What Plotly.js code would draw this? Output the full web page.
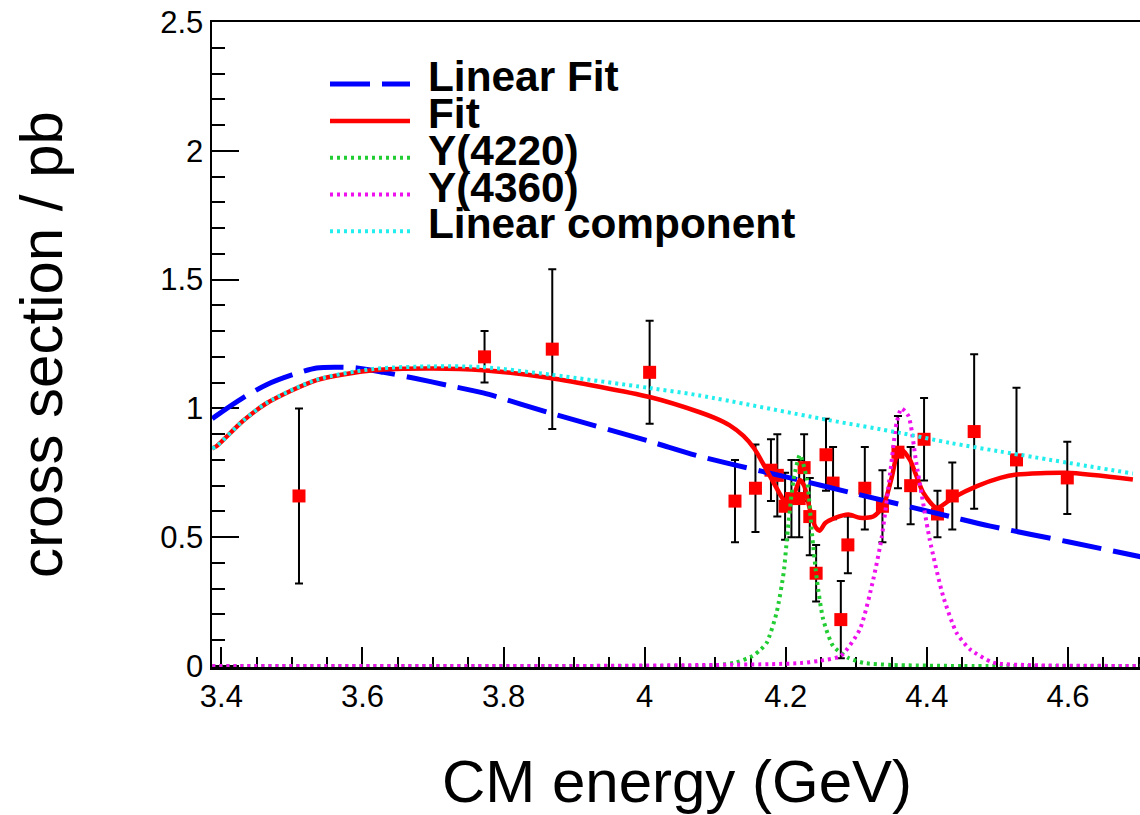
<!DOCTYPE html>
<html>
<head>
<meta charset="utf-8">
<script src="https://cdn.plot.ly/plotly-3.0.1.min.js"></script>
<style>
  html, body { margin: 0; padding: 0; background: #fff; overflow: hidden; }
  #chart { width: 1150px; height: 815px; }
</style>
</head>
<body>
<div id="chart"></div>
<script>
// Measured cross sections (pb) vs centre-of-mass energy (GeV)
const energy = [3.510, 3.773, 3.869, 4.007, 4.128, 4.157, 4.179, 4.188, 4.199, 4.208,
                4.219, 4.226, 4.234, 4.243, 4.257, 4.267, 4.278, 4.288, 4.312, 4.337,
                4.359, 4.377, 4.396, 4.415, 4.436, 4.467, 4.527, 4.599];
const xsec   = [0.66, 1.20, 1.23, 1.14, 0.64, 0.69, 0.76, 0.74, 0.62, 0.65,
                0.65, 0.77, 0.58, 0.36, 0.82, 0.71, 0.18, 0.47, 0.69, 0.62,
                0.83, 0.70, 0.88, 0.59, 0.66, 0.91, 0.80, 0.73];
const xsecErr = [0.34, 0.10, 0.31, 0.20, 0.16, 0.17, 0.12, 0.16, 0.13, 0.15,
                 0.15, 0.13, 0.15, 0.11, 0.14, 0.14, 0.15, 0.11, 0.16, 0.14,
                 0.14, 0.15, 0.16, 0.09, 0.13, 0.30, 0.28, 0.14];

// Linear fit (blue dashed)
const linFitE = [3.387, 3.393, 3.43, 3.464, 3.50, 3.535, 3.565, 3.592, 3.63, 3.672,
                 3.72, 3.771, 3.866, 4.007, 4.078, 4.20, 4.30, 4.433, 4.49, 4.60, 4.705];
const linFitY = [0.96, 0.972, 1.04, 1.092, 1.13, 1.157, 1.16, 1.157, 1.14, 1.118,
                 1.09, 1.06, 0.982, 0.872, 0.814, 0.734, 0.668, 0.580, 0.543, 0.482, 0.423];

// Full fit (red solid)
const fitE = [3.387, 3.393, 3.43, 3.464, 3.535, 3.615, 3.70, 3.771, 3.866, 4.007,
              4.078, 4.10, 4.12, 4.14, 4.155, 4.17, 4.185, 4.197, 4.205, 4.213,
              4.220, 4.226, 4.234, 4.242, 4.248, 4.256, 4.270, 4.289, 4.305, 4.324,
              4.338, 4.350, 4.359, 4.364, 4.376, 4.395, 4.414, 4.437, 4.471, 4.504,
              4.527, 4.598, 4.692];
const fitY = [0.845, 0.853, 0.95, 1.02, 1.11, 1.148, 1.155, 1.148, 1.118, 1.044,
              0.985, 0.962, 0.935, 0.893, 0.845, 0.775, 0.70, 0.645, 0.635, 0.675,
              0.722, 0.70, 0.61, 0.54, 0.525, 0.555, 0.575, 0.588, 0.575, 0.58,
              0.62, 0.73, 0.833, 0.84, 0.80, 0.672, 0.614, 0.653, 0.698, 0.73,
              0.743, 0.75, 0.724];

// Y(4220) component (green dotted)
const y4220E = [3.387, 4.00, 4.10, 4.13, 4.153, 4.163, 4.173, 4.187, 4.197, 4.202,
                4.211, 4.220, 4.230, 4.237, 4.244, 4.253, 4.267, 4.289, 4.31, 4.35, 4.45, 4.705];
const y4220Y = [0.0, 0.0, 0.002, 0.014, 0.039, 0.06, 0.09, 0.207, 0.362, 0.504,
                0.724, 0.82, 0.724, 0.517, 0.336, 0.181, 0.078, 0.031, 0.012, 0.004, 0.0, 0.0];

// Y(4360) component (magenta dotted)
const y4360E = [3.387, 3.90, 4.10, 4.18, 4.22, 4.248, 4.278, 4.305, 4.324, 4.336,
                4.348, 4.357, 4.364, 4.374, 4.385, 4.404, 4.423, 4.442, 4.461, 4.494,
                4.55, 4.705];
const y4360Y = [0.0, 0.0, 0.004, 0.007, 0.011, 0.02, 0.039, 0.142, 0.336, 0.50,
                0.75, 0.943, 1.0, 0.97, 0.788, 0.491, 0.271, 0.129, 0.065, 0.013,
                0.003, 0.0];

// Linear (non-resonant) component (cyan dotted)
const linCompE = [3.387, 3.393, 3.43, 3.464, 3.535, 3.615, 3.700, 3.771, 3.866, 4.007,
                  4.078, 4.258, 4.362, 4.433, 4.503, 4.692];
const linCompY = [0.845, 0.853, 0.95, 1.021, 1.111, 1.153, 1.163, 1.16, 1.131, 1.079,
                  1.05, 0.956, 0.905, 0.866, 0.833, 0.747];

const xTickVals = [3.4, 3.6, 3.8, 4.0, 4.2, 4.4, 4.6];
const yTickVals = [0, 0.5, 1, 1.5, 2, 2.5];

const FONT = 'Liberation Sans, Arial, Helvetica, sans-serif';

const traces = [
  {
    x: energy, y: xsec, type: 'scatter', mode: 'markers', showlegend: false,
    marker: { symbol: 'square', size: 13, color: '#ff0000' },
    error_y: { type: 'data', array: xsecErr, visible: true, color: '#000', thickness: 2, width: 4 }
  },
  {
    x: linFitE, y: linFitY, type: 'scatter', mode: 'lines', name: 'Linear Fit',
    line: { color: '#0000ff', width: 5, dash: '40px,12px', shape: 'spline', smoothing: 0.8 }
  },
  {
    x: fitE, y: fitY, type: 'scatter', mode: 'lines', name: 'Fit',
    line: { color: '#ff0000', width: 4.5, shape: 'spline', smoothing: 0.7 }
  },
  {
    x: y4220E, y: y4220Y, type: 'scatter', mode: 'lines', name: 'Y(4220)',
    line: { color: '#22cc33', width: 4, dash: '3px,4px', shape: 'spline', smoothing: 0.6 }
  },
  {
    x: y4360E, y: y4360Y, type: 'scatter', mode: 'lines', name: 'Y(4360)',
    line: { color: '#ee11ee', width: 4, dash: '3px,4px', shape: 'spline', smoothing: 0.6 }
  },
  {
    x: linCompE, y: linCompY, type: 'scatter', mode: 'lines', name: 'Linear component',
    line: { color: '#22eeee', width: 4, dash: '3px,4px', shape: 'spline', smoothing: 0.8 }
  }
];

const layout = {
  width: 1150, height: 815,
  margin: { l: 212, r: 8, t: 22, b: 148 },
  paper_bgcolor: '#fff', plot_bgcolor: '#fff',
  font: { family: FONT, color: '#000' },
  showlegend: true,
  legend: {
    x: 0.1215, y: 0.94, xanchor: 'left', yanchor: 'top',
    bgcolor: 'rgba(0,0,0,0)', borderwidth: 0,
    font: { family: FONT, size: 26, color: '#000', weight: 'bold' },
    itemwidth: 80, tracegroupgap: 0
  },
  xaxis: {
    range: [3.3867, 4.7049], showgrid: false, zeroline: false,
    showline: true, linecolor: '#000', linewidth: 2.5, mirror: true,
    ticks: 'inside', ticklen: 20, tickwidth: 2, tickcolor: '#000',
    tickvals: xTickVals, ticktext: xTickVals.map(v => String(v)),
    tickfont: { family: FONT, size: 31, color: '#000' },
    minor: { ticks: 'inside', dtick: 0.05, tick0: 3.4, ticklen: 10, tickwidth: 2, tickcolor: '#000', showgrid: false },
    layer: 'below traces',
    title: { text: 'CM energy (GeV)', font: { family: FONT, size: 60, color: '#000' }, standoff: 48 }
  },
  yaxis: {
    range: [-0.004, 2.5], showgrid: false, zeroline: false,
    showline: true, linecolor: '#000', linewidth: 2.5, mirror: true,
    ticks: 'inside', ticklen: 27, tickwidth: 2, tickcolor: '#000',
    tickvals: yTickVals, ticktext: yTickVals.map(v => String(v)),
    tickfont: { family: FONT, size: 31, color: '#000' },
    minor: { ticks: 'inside', dtick: 0.1, tick0: 0, ticklen: 13, tickwidth: 2, tickcolor: '#000', showgrid: false },
    layer: 'below traces',
    title: { text: 'cross section / pb', font: { family: FONT, size: 60, color: '#000' }, standoff: 78 }
  }
};

Plotly.newPlot('chart', traces, layout, { displayModeBar: false, staticPlot: true }).then(gd => {
  // Legend labels are drawn large and tightly packed: each label is
  // enlarged about its own baseline start, so the rows keep their spacing.
  const SCALE = 1.63, SHIFT = 13, LIFT = 3;
  gd.querySelectorAll('.legend [clip-path]').forEach(el => el.removeAttribute('clip-path'));
  gd.querySelectorAll('.legendtext').forEach(t => {
    const x = (parseFloat(t.getAttribute('x')) || 0) + SHIFT;
    const y = parseFloat(t.getAttribute('y')) || 0;
    t.setAttribute('x', x);
    t.querySelectorAll('tspan[x]').forEach(s => s.setAttribute('x', x));
    t.setAttribute('transform',
      'translate(' + x + ',' + (y - LIFT) + ') scale(' + SCALE + ') translate(' + (-x) + ',' + (-y) + ')');
  });
});
</script>
</body>
</html>
